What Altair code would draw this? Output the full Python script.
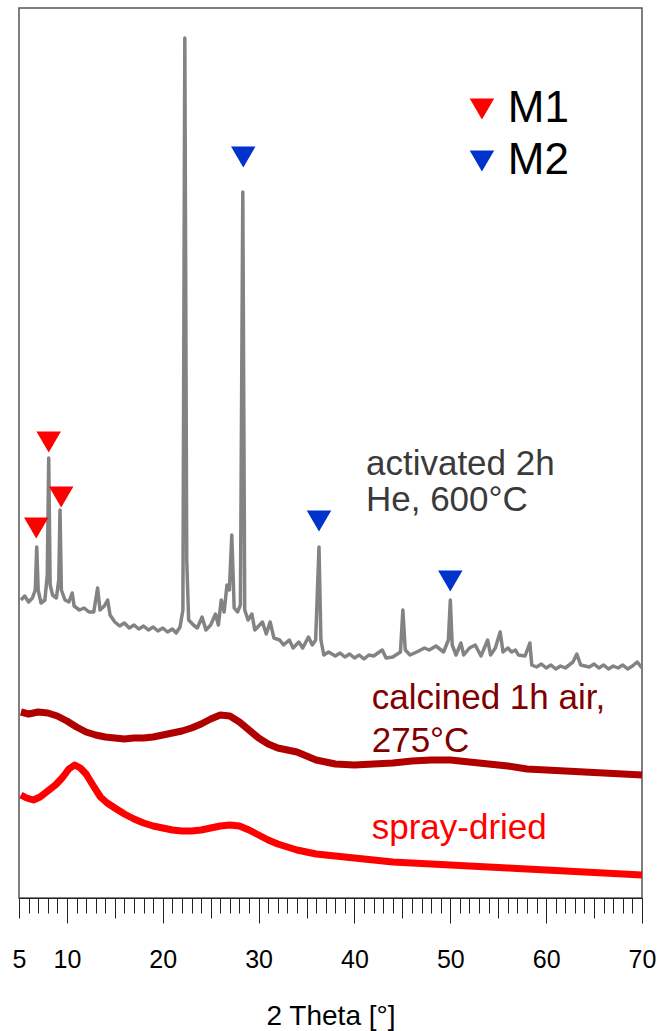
import altair as alt
import pandas as pd

FONT = "Liberation Sans"

# --- diffraction patterns (2 theta in degrees, intensity in a.u., offset per sample) ---
act_2theta = [5.2, 5.6, 6.0, 6.4, 6.7, 6.85, 7.0, 7.3, 7.7, 7.95, 8.1, 8.25, 8.5, 8.9, 9.15,
              9.28, 9.42, 9.8, 10.2, 10.55, 10.75, 11.3, 11.8, 12.3, 12.8, 13.2, 13.45, 13.9,
              14.25, 14.5, 15, 15.5, 16, 16.5, 17, 17.5, 18, 18.5, 19, 19.5, 20, 20.5, 21,
              21.4, 21.8, 22.1, 22.3, 22.5, 22.7, 23.2, 23.6,
              24.1, 24.5, 25, 25.5, 25.8, 26.1, 26.4, 26.7, 26.95, 27.2, 27.45, 27.8, 28.1,
              28.35, 28.55, 28.9, 29.3, 29.6, 30.0, 30.4, 30.8, 31.2, 31.6, 32.2, 32.6, 33.2,
              33.6, 34.2, 34.6, 35.2, 35.6, 35.95, 36.1, 36.3, 36.5, 36.8, 37.3, 38, 38.5, 39,
              39.5, 40, 40.5, 41, 41.5, 42, 42.9, 43.3, 44, 44.8, 45.05, 45.3, 45.8, 46.5,
              47.3, 47.8, 48.5, 49.3, 49.8, 50.0, 50.2, 50.6, 51.1, 51.4, 52, 52.6, 53.2, 53.9,
              54.2, 54.7, 55.2, 55.5, 56, 56.4, 56.8, 57.1, 57.8, 58.3, 58.5, 59, 59.5, 60,
              60.5, 61, 61.5, 62, 62.8, 63.2, 63.6, 64.5, 65, 65.5, 66, 66.5, 67, 67.5, 68,
              68.5, 69, 69.5, 70]
act_int = [298, 302, 296, 300, 308, 351, 308, 295, 298, 323, 440, 313, 303, 300, 318,
           388, 308, 298, 296, 305, 292, 288, 290, 286, 286, 310, 288, 292,
           298, 283, 276, 272, 275, 270, 273, 269, 272, 268, 271, 267, 270, 266, 269,
           265, 271, 288, 860, 338, 278, 273, 270,
           281, 268, 273, 284, 273, 298, 286, 313, 308, 363, 290, 286, 293,
           706, 288, 278, 284, 268, 272, 276, 264, 276, 260, 258, 253, 258,
           250, 256, 250, 261, 253, 258, 298, 351, 258, 243, 246, 242, 245, 241,
           244, 240, 243, 239, 243, 242, 248, 240, 241, 246, 288, 248, 243, 246,
           250, 248, 252, 246, 258, 298, 253, 243, 255, 243, 250, 253, 242, 258,
           243, 250, 266, 246, 250, 246, 248, 243, 242, 255, 233, 231, 234, 230,
           233, 229, 232, 230, 236, 244, 233, 231, 234, 230, 233, 229, 232, 230, 233,
           229, 232, 236, 230]

calc_2theta = [5.2, 6, 7, 8, 9, 10, 11, 12, 13, 14, 15, 16, 17, 18, 19, 20, 21, 22, 23, 24,
               25, 26, 27, 28, 29, 30, 31, 32, 33, 34, 35, 36, 37, 38, 40, 42, 44, 46, 48,
               50, 52, 54, 56, 58, 60, 62, 64, 66, 68, 70]
calc_int = [186, 184, 186, 185, 182, 177, 171, 166, 163, 161, 160, 159, 160, 160, 161, 163,
            165, 167, 170, 174, 179, 183, 182, 176, 168, 160, 154, 150, 148, 146, 142, 138,
            136, 134, 133, 134, 135, 137, 138, 138, 136, 134, 132, 129, 128, 127, 126, 125,
            124, 123]

spray_2theta = [5.2, 5.8, 6.5, 7.2, 8, 8.8, 9.5, 10.2, 10.8, 11.4, 12, 12.7, 13.5, 14.2, 15,
                16, 17, 18, 19, 20, 21, 22, 23, 24, 25, 26, 27, 28, 29, 30, 31, 32, 33, 34,
                35, 36, 38, 40, 42, 44, 46, 48, 50, 52, 54, 56, 58, 60, 62, 64, 66, 68, 70]
spray_int = [103, 100, 98, 101, 107, 113, 120, 129, 133, 130, 124, 113, 101, 95, 90,
             84, 79, 75, 72, 70, 68, 67, 67, 68, 70, 72, 73, 72, 68, 63, 58, 54, 51, 48,
             46, 44, 42, 40, 38, 36, 35, 34, 33, 32, 31, 30, 29, 28, 27, 26, 25, 24, 23]

# --- reflection markers for the two phases ---
m1_2theta = [6.8, 8.1, 9.4]
m1_int = [370, 456, 401]
m2_2theta = [28.4, 36.3, 50.0]
m2_int = [741, 377, 317]

# --- phase key and sample annotations ---
key_names = ["M1", "M2"]
key_2theta = [53.3, 53.3]
key_int = [789, 737]
key_text_2theta = [56.0, 56.0]

ann_act = ["activated 2h", "He, 600°C"]
ann_act_2theta = [41.2, 41.2]
ann_act_int = [434, 398]
ann_calc = ["calcined 1h air,", "275°C"]
ann_calc_2theta = [41.8, 41.8]
ann_calc_int = [200, 157]
ann_spray = ["spray-dried"]
ann_spray_2theta = [41.8]
ann_spray_int = [70]

x_scale = alt.Scale(domain=[5, 70], nice=False, zero=False)
y_scale = alt.Scale(domain=[0, 890], nice=False, zero=False)

minor_ticks = list(range(5, 71))
half_ticks = [5, 15, 25, 35, 45, 55, 65]
major_ticks = [10, 20, 30, 40, 50, 60, 70]

axis_minor = alt.Axis(orient="bottom", values=minor_ticks, labels=False, tickSize=15,
                      tickColor="#222", tickWidth=1, domain=False, grid=False, title=None)
axis_half = alt.Axis(orient="bottom", values=half_ticks, tickSize=20, tickColor="#222",
                     tickWidth=1, domain=False, grid=False, title=None,
                     labelExpr="datum.value == 5 ? datum.label : ''",
                     labelFont=FONT, labelFontSize=25, labelColor="#000", labelPadding=29,
                     labelFlush=False)
axis_major = alt.Axis(orient="bottom", values=major_ticks, tickSize=25, tickColor="#222",
                      tickWidth=1, domain=True, domainColor="#222", domainWidth=1.2,
                      grid=False, title="2 Theta [°]", titleFont=FONT, titleFontSize=28,
                      titleFontWeight="normal", titleColor="#000", titlePadding=30,
                      labelFont=FONT, labelFontSize=25, labelColor="#000", labelPadding=24,
                      labelFlush=False)


def line_layer(xs, ys, color, width, axis):
    df = pd.DataFrame({"two_theta": xs, "intensity": ys})
    return alt.Chart(df).mark_line(color=color, strokeWidth=width, strokeJoin="round",
                                   strokeCap="butt").encode(
        x=alt.X("two_theta:Q", scale=x_scale, axis=axis),
        y=alt.Y("intensity:Q", scale=y_scale, axis=None),
        order="two_theta:Q",
    )


spray = line_layer(spray_2theta, spray_int, "#ff0000", 7, axis_half)
calc = line_layer(calc_2theta, calc_int, "#b00000", 7, axis_major)
act = line_layer(act_2theta, act_int, "#838383", 3.5, axis_minor)


def marker_layer(xs, ys, color):
    df = pd.DataFrame({"two_theta": xs, "intensity": ys})
    return alt.Chart(df).mark_point(shape="triangle-down", filled=True, size=600,
                                    color=color, opacity=1, strokeWidth=0).encode(
        x=alt.X("two_theta:Q", scale=x_scale, axis=None),
        y=alt.Y("intensity:Q", scale=y_scale, axis=None),
    )


m1 = marker_layer(m1_2theta + key_2theta[:1], m1_int + key_int[:1], "#ff0000")
m2 = marker_layer(m2_2theta + key_2theta[1:], m2_int + key_int[1:], "#0033cc")

key_df = pd.DataFrame({"name": key_names, "two_theta": key_text_2theta, "intensity": key_int})
key_text = alt.Chart(key_df).mark_text(align="left", baseline="middle", font=FONT,
                                       fontSize=44, color="#000").encode(
    x=alt.X("two_theta:Q", scale=x_scale, axis=None),
    y=alt.Y("intensity:Q", scale=y_scale, axis=None),
    text="name:N",
)


def text_layer(labels, xs, ys, color):
    df = pd.DataFrame({"label": labels, "two_theta": xs, "intensity": ys})
    return alt.Chart(df).mark_text(align="left", baseline="middle", font=FONT,
                                   fontSize=35, color=color).encode(
        x=alt.X("two_theta:Q", scale=x_scale, axis=None),
        y=alt.Y("intensity:Q", scale=y_scale, axis=None),
        text="label:N",
    )


t_act = text_layer(ann_act, ann_act_2theta, ann_act_int, "#3a3a3a")
t_calc = text_layer(ann_calc, ann_calc_2theta, ann_calc_int, "#800000")
t_spray = text_layer(ann_spray, ann_spray_2theta, ann_spray_int, "#ff0000")

chart = alt.layer(
    spray, calc, act, m1, m2, key_text, t_act, t_calc, t_spray
).resolve_axis(x="independent").properties(
    width=623,
    height=890,
    autosize=alt.AutoSizeParams(type="none"),
    padding={"left": 19, "top": 8, "right": 18, "bottom": 133},
    background="white",
).configure_view(stroke="#555", strokeWidth=1.5)

chart.save("out.html", embed_options={"renderer": "svg", "actions": False})
